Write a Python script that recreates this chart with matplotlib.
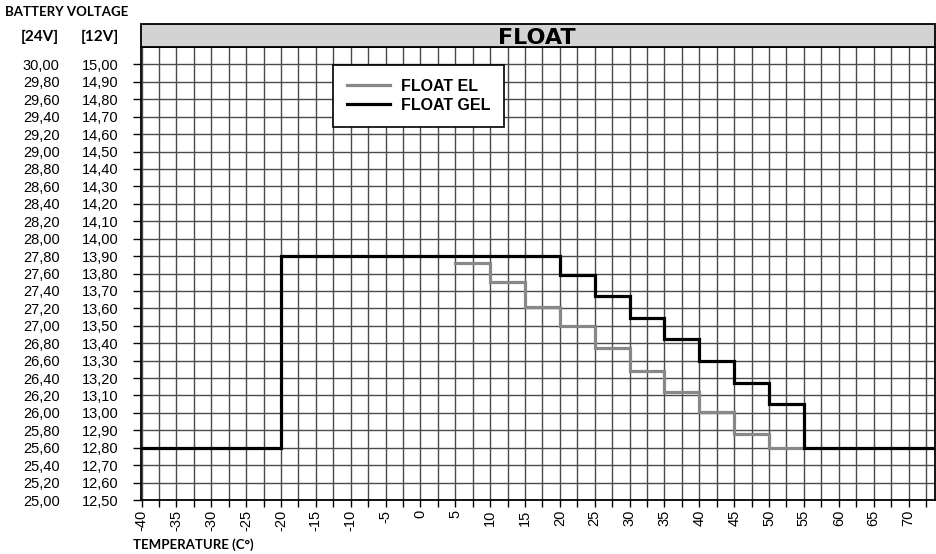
import matplotlib
matplotlib.use("Agg")
import matplotlib.pyplot as plt
from matplotlib.patches import Rectangle
from matplotlib.ticker import MultipleLocator
from matplotlib.lines import Line2D

# ---- data ----
gel_temp = [-40, -20, 20, 25, 30, 35, 40, 45, 50, 55, 75]
gel_volt = [12.80, 13.90, 13.79, 13.67, 13.545, 13.425, 13.30, 13.17, 13.05, 12.80, 12.80]
el_temp = [5, 10, 15, 20, 25, 30, 35, 40, 45, 50, 55]
el_volt = [13.86, 13.75, 13.61, 13.50, 13.37, 13.24, 13.12, 13.005, 12.88, 12.80, 12.80]
x_ticks = list(range(-40, 75, 5))
y12_ticks = [12.5 + 0.1 * i for i in range(26)]
series_names = ["FLOAT EL", "FLOAT GEL"]
chart_title = "FLOAT"

W, H = 937, 554
fig = plt.figure(figsize=(W / 100, H / 100), dpi=100)
L, R, B, T = 141.5, 935, 500, 47
ax = fig.add_axes([L / W, 1 - B / H, (R - L) / W, (B - T) / H])

ax.set_xlim(-40, 73.8)
ax.set_ylim(12.5, 15.1)

tick_font = "Liberation Sans"
ax.xaxis.set_minor_locator(MultipleLocator(2.5))
ax.set_xticks(x_ticks)
ax.set_yticks(y12_ticks)
ax.set_yticklabels([f"{v:.2f}".replace(".", ",") for v in y12_ticks],
                   fontfamily=tick_font, fontsize=10.5)
ax.set_xticklabels([str(v) for v in x_ticks], rotation=90,
                   fontfamily=tick_font, fontsize=10.5)
ax.tick_params(axis="y", which="major", length=6, width=1, pad=10.5, color="black")
ax.tick_params(axis="x", which="both", length=5, width=1, pad=2, color="black")

ax.grid(True, which="both", color="#4a4a4a", linewidth=1.0)
ax.set_axisbelow(True)
for s in ax.spines.values():
    s.set_color("black")
    s.set_linewidth(1.3)

# 24V scale
sec = ax.secondary_yaxis((61 - L) / (R - L), functions=(lambda v: v * 2, lambda v: v / 2))
y24_ticks = [v * 2 for v in y12_ticks]
sec.set_yticks(y24_ticks)
sec.set_yticklabels([f"{v:.2f}".replace(".", ",") for v in y24_ticks],
                    fontfamily=tick_font, fontsize=10.5)
sec.tick_params(length=0, pad=1)
sec.spines["left"].set_visible(False)

# series
ax.plot(el_temp, el_volt, drawstyle="steps-post", color="#888888", lw=2.3,
        solid_joinstyle="miter", zorder=3)
ax.plot(gel_temp, gel_volt, drawstyle="steps-post", color="black", lw=2.3,
        solid_joinstyle="miter", zorder=4)

handles = [Line2D([], [], color="#888888", lw=2.3), Line2D([], [], color="black", lw=2.3)]
leg = ax.legend(handles, series_names, loc="upper left",
                bbox_to_anchor=(333 / W, 1 - 65 / H), bbox_transform=fig.transFigure,
                borderaxespad=0, frameon=True, fancybox=False,
                prop={"family": "Liberation Sans", "weight": "bold", "size": 11.5},
                handlelength=2.7, handletextpad=0.7, borderpad=0.85, labelspacing=0.28)
leg.get_frame().set_edgecolor("black")
leg.get_frame().set_linewidth(1.2)
leg.get_frame().set_alpha(1)

# header band
fig.patches.append(Rectangle((L / W, 1 - T / H), (R - L) / W, 22.5 / H,
                             transform=fig.transFigure, facecolor="#d3d3d3",
                             edgecolor="black", linewidth=1.3))
fig.text(537 / W, 1 - 44 / H, chart_title, ha="center", va="baseline",
         fontfamily="DejaVu Sans", fontweight="bold", fontsize=16)

lab_font = "Lato"
fig.text(5 / W, 1 - 12.5 / H, "BATTERY VOLTAGE", ha="left", va="center",
         fontfamily=lab_font, fontweight="bold", fontsize=9.5)
fig.text(40 / W, 1 - 37 / H, "[24V]", ha="center", va="center",
         fontfamily=lab_font, fontweight="bold", fontsize=11)
fig.text(100 / W, 1 - 37 / H, "[12V]", ha="center", va="center",
         fontfamily=lab_font, fontweight="bold", fontsize=11)
fig.text(133 / W, 1 - 545 / H, "TEMPERATURE (C°)", ha="left", va="center",
         fontfamily=lab_font, fontweight="bold", fontsize=9.5)

fig.savefig("out.png", dpi=100)
